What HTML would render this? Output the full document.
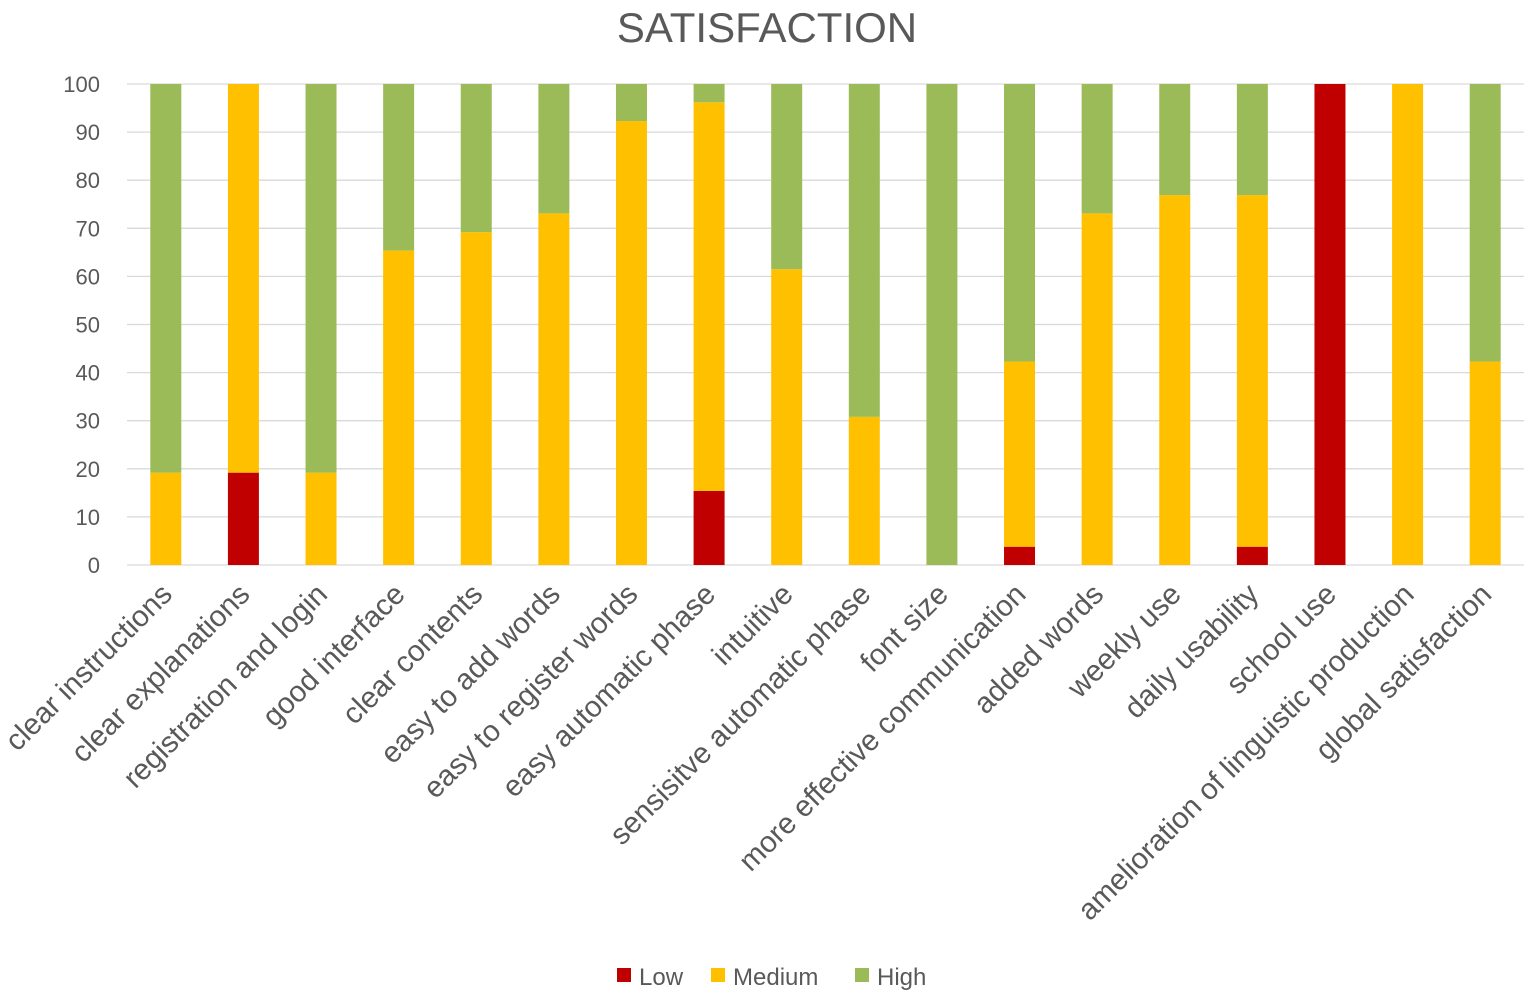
<!DOCTYPE html>
<html><head><meta charset="utf-8"><style>
body{margin:0;background:#fff}
svg{font-family:"Liberation Sans",Calibri,sans-serif}
</style></head><body>
<svg id="chart" width="1535" height="998">
<text x="767" y="42" text-anchor="middle" font-size="42" fill="#595959">SATISFACTION</text>
<g id="grid"></g><g id="bars"></g><g id="xlabels"></g>
<g>
<rect x="617" y="968" width="14" height="14" fill="#c00000"/>
<text x="639" y="985" font-size="24" fill="#595959">Low</text>
<rect x="711" y="968" width="14" height="14" fill="#ffc000"/>
<text x="733" y="985" font-size="24" fill="#595959">Medium</text>
<rect x="855" y="968" width="14" height="14" fill="#9bbb59"/>
<text x="877" y="985" font-size="24" fill="#595959">High</text>
</g>
</svg>
<script>
const categories=["clear instructions","clear explanations","registration and login","good interface","clear contents","easy to add words","easy to register words","easy automatic phase","intuitive","sensisitve automatic phase","font size","more effective communication","added words","weekly use","daily usability","school use","amelioration of linguistic production","global satisfaction"];
const lowValues=[0,19.2,0,0,0,0,0,15.4,0,0,0,3.8,0,0,3.8,100,0,0];
const mediumValues=[19.2,80.8,19.2,65.4,69.2,73.1,92.3,80.8,61.5,30.8,0,38.5,73.1,76.9,73.1,0,100,42.3];
const yTicks=[0,10,20,30,40,50,60,70,80,90,100];
const NS="http://www.w3.org/2000/svg";
const y0=565,y100=84,x0=127,x1=1524;
const yS=v=>y0-(y0-y100)*v/100;
const step=(x1-x0)/categories.length;
const xC=i=>x0+step*(i+0.5);
const bw=31;
function mk(t,a,p){const e=document.createElementNS(NS,t);for(const k in a)e.setAttribute(k,a[k]);p.appendChild(e);return e;}
const grid=document.getElementById('grid');
yTicks.forEach(t=>{
 const l=mk('line',{x1:x0,x2:x1,y1:yS(t),y2:yS(t),stroke:'#d9d9d9','stroke-width':1.3},grid);
 
 
 const tx=mk('text',{x:100,y:yS(t)+8,'text-anchor':'end','font-size':22,fill:'#595959'},grid);
 tx.textContent=t;
 
 
});
const bars=document.getElementById('bars'),xl=document.getElementById('xlabels');
categories.forEach((c,i)=>{
 const lo=lowValues[i],me=mediumValues[i];
 const x=xC(i)-bw/2;
 const segs=[[0,lo,'#c00000','low'],[lo,lo+me,'#ffc000','medium'],[lo+me,100,'#9bbb59','high']];
 segs.forEach(s=>{
  if(s[1]-s[0]<=0)return;
  const r=mk('rect',{x:x,y:yS(s[1]),width:bw,height:yS(s[0])-yS(s[1]),fill:s[2]},bars);
  
  
 });
 const cx=xC(i)+8,cy=596;
 const t=mk('text',{x:cx,y:cy,'text-anchor':'end','font-size':29.5,fill:'#595959',transform:`rotate(-45 ${cx} ${cy})`},xl);
 t.textContent=c;
 
 
});
</script>
</body></html>
